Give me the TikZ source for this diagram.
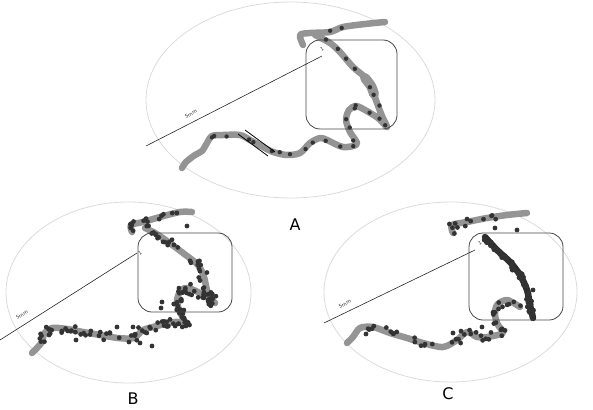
\documentclass[tikz,border=0pt]{standalone}
\usepackage{fontspec}
\setmainfont{DejaVu Sans}
\tikzset{
  ell/.style={draw=black!14, line width=0.8pt},
  zoombox/.style={draw=black!72, line width=0.8pt, rounded corners=14pt},
  scalebar/.style={draw=black!85, line width=0.6pt},
  track/.style={draw=black!42, line width=6.5pt, line cap=round, line join=round},
  darktrack/.style={draw=black!82, line width=6.5pt, line cap=round, line join=round},
  spot/.style={fill=black!80},
  panellabel/.style={font=\fontsize{16}{18}\selectfont, inner sep=0pt},
  tinylabel/.style={font=\fontsize{5}{5}\selectfont, inner sep=0pt, text=black!80}
}
\newcommand\scatterdots[4]{% #1 dots per segment, #2 jitter, #3 radius, #4 list x/y
  \foreach \xa/\ya [remember=\xa as \xp (initially -1), remember=\ya as \yp (initially -1)] in {#4} {
    \ifdim\xp pt>0pt
      \foreach \k in {1,...,#1} {
        \pgfmathsetmacro\tt{rnd}
        \pgfmathsetmacro\dx{\xp+\tt*(\xa-\xp)+rand*#2}
        \pgfmathsetmacro\dy{\yp+\tt*(\ya-\yp)+rand*#2}
        \fill[spot] (\dx,\dy) circle (#3);
      }
    \fi
  }}
\begin{document}
\begin{tikzpicture}[x=1pt,y=-1pt]
\pgfmathsetseed{7}
\useasboundingbox (0,0) rectangle (593,409);
% ---------------- Panel A ----------------
\draw[ell] (290.5,100) ellipse [x radius=144.5, y radius=98];
\draw[track] plot[smooth] coordinates {(303,45) (300,35) (310,33) (330,32) (343,27) (365,24) (385,22)};
\draw[track] plot[smooth] coordinates {(315,35) (330,43) (340,52) (353,67) (368,80) (373,92) (377,103) (382,116) (387,127)
  (378,118) (365,110) (356,106) (349,110) (346,120) (350,132) (357,144) (343,147) (327,140) (320,138) (310,143) (300,153) (287,155) (273,152) (263,147) (250,140) (240,135) (223,135) (212,136) (207,143) (202,151) (195,155) (186,162) (182,168)};
\draw[track, line width=10pt] plot[smooth] coordinates {(365,78) (371,86) (374,94)};
\scatterdots{1}{1.5}{2.2}{330/32, 343/27, 315/35, 330/43, 340/52, 353/67, 368/80, 373/92, 377/103, 382/116, 387/127, 378/118, 365/110, 356/106, 349/110, 346/120, 350/132, 357/144, 343/147, 327/140, 320/138, 310/143, 300/153, 287/155, 273/152, 263/147, 250/140, 240/135, 223/135, 212/136, 207/143}
\draw[black, line width=0.8pt] (238,134) -- (268,156);
\draw[black, line width=0.8pt] (245,130) -- (275,152);
\draw[zoombox] (306,40) rectangle (397,129);
\coordinate (A1) at (146,146);
\coordinate (A2) at (322,56);
\draw[scalebar] (A1) -- (A2);
\node[tinylabel, rotate=27] (la) at (191,114) {5mm};
\node[tinylabel, rotate=27] (la2) at (322,49) {1};
\node[panellabel] (labA) at (295,225) {A};
% ---------------- Panel B ----------------
\draw[ell] (128.5,292.5) ellipse [x radius=122.5, y radius=90.5];
\draw[track] plot[smooth] coordinates {(132,232) (131,225) (143,222) (160,217) (180,212) (192,212)};
\draw[track] plot[smooth] coordinates {(145,228) (155,233) (167,241) (183,253) (198,265) (204,277) (207,290) (212,300) (215,303)
  (205,296) (198,292) (188,288) (181,290) (177,300) (179,310) (183,318) (186,325) (178,322) (168,323) (157,326) (143,330) (134,338) (118,338) (100,335) (83,332) (67,329) (52,328) (44,334) (42,342) (35,350) (32,353)};
\scatterdots{4}{3.5}{2.4}{132/232, 131/225, 143/222, 160/217, 180/212}
\scatterdots{5}{4.5}{2.4}{145/228, 155/233, 167/241, 183/253, 198/265, 204/277, 207/290, 212/300, 215/303, 205/296, 198/292, 188/288, 181/290, 177/300, 179/310, 183/318, 186/325, 178/322, 168/323, 157/326, 143/330, 134/338, 118/338, 100/335, 83/332, 67/329, 52/328, 44/334, 42/342}
\foreach \x/\y in {187/226, 162/302, 161/308, 152/346, 133/327, 117/327, 140/343, 76/340}
  \fill[spot] (\x,\y) circle (2.4);
\draw[zoombox] (138,233) rectangle (232,312);
\coordinate (B1) at (0,340);
\coordinate (B2) at (137,253);
\draw[scalebar] (B1) -- (B2);
\node[tinylabel, rotate=32] (lb) at (22,315) {5mm};
\node[tinylabel, rotate=32] (lb2) at (140,253) {1};
\node[panellabel] (labB) at (133,399) {B};
% ---------------- Panel C ----------------
\draw[ell] (450.5,292) ellipse [x radius=126.5, y radius=90];
\draw[track] plot[smooth] coordinates {(453,233) (452,225) (467,222) (487,218) (507,215) (527,213)};
\scatterdots{3}{3.5}{2.4}{453/233, 452/225, 467/222, 487/218, 507/215}
\draw[darktrack] plot[smooth] coordinates {(485,237) (497,250) (510,262) (520,275) (527,290) (530,305) (533,318)};
\scatterdots{7}{2.5}{2.6}{485/237, 497/250, 510/262, 520/275, 527/290, 530/305, 533/318}
\draw[track] plot[smooth] coordinates {(520,307) (507,300) (497,305) (495,315) (498,325) (503,333) (487,337) (477,337) (467,332) (457,340) (443,347) (423,343) (407,338) (390,333) (373,327) (360,328) (353,337) (347,343)};
\scatterdots{3}{4}{2.4}{520/307, 507/300, 497/305, 495/315, 498/325, 503/333, 487/337, 477/337, 467/332, 457/340, 443/347, 423/343, 407/338, 390/333, 373/327, 360/328}
\foreach \x/\y in {495/228, 517/230, 533/290, 482/327, 453/333, 366/334}
  \fill[spot] (\x,\y) circle (2.4);
\draw[zoombox] (469,233) rectangle (563,320);
\coordinate (C1) at (324,323);
\coordinate (C2) at (475,250);
\draw[scalebar] (C1) -- (C2);
\node[tinylabel, rotate=26] (lc) at (345,304) {5mm};
\node[tinylabel, rotate=26] (lc2) at (480,243) {1};
\node[panellabel] (labC) at (448,394) {C};
\end{tikzpicture}
\end{document}
